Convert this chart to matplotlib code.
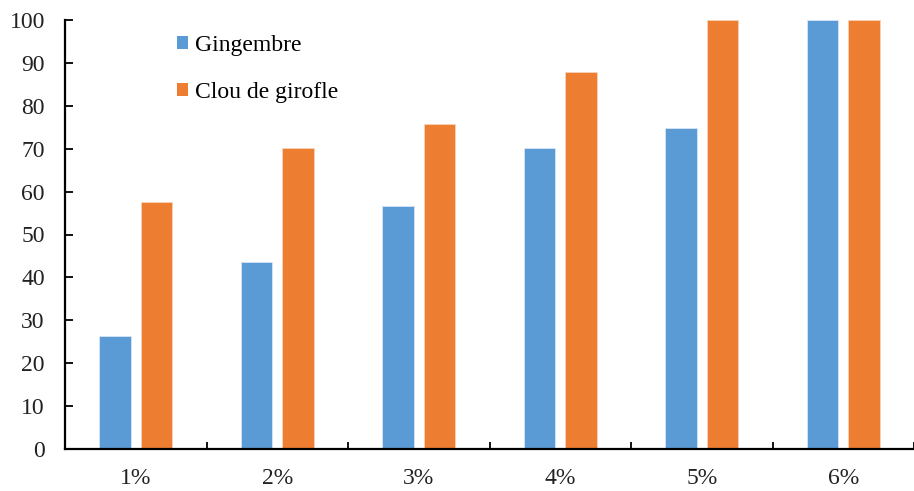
import numpy as np
import matplotlib.pyplot as plt
from matplotlib.patches import Patch

# Concentrations et pourcentages mesurés
concentrations = ["1%", "2%", "3%", "4%", "5%", "6%"]
gingembre = [26.3, 43.5, 56.6, 70.2, 74.8, 100]
clou_girofle = [57.5, 70.2, 75.8, 87.9, 100, 100]

bleu = "#5B9BD5"
orange = "#ED7D31"

plt.rcParams['font.family'] = ['Liberation Serif', 'DejaVu Serif']
fs = 17

fig = plt.figure(figsize=(9.14, 4.91), dpi=100)
ax = fig.add_axes([65/914, 1 - 449/491, 849/914, 429/491])

x = np.arange(len(concentrations))
w = 0.224
ax.bar(x - 0.147, gingembre, w, color=bleu, edgecolor="#d6e6f5", linewidth=0.6)
ax.bar(x + 0.147, clou_girofle, w, color=orange, edgecolor="#f8d3bc", linewidth=0.6)

ax.set_xlim(-0.5, 5.437)
ax.set_ylim(0, 100)
ax.set_yticks(np.arange(0, 101, 10))

ax.set_xticks(x)
ax.set_xticklabels(concentrations)
ax.set_xticks(np.arange(0.5, 5.6, 1), minor=True)
ax.tick_params(axis='x', which='major', length=0, pad=14, labelsize=fs, labelcolor="#222222")
ax.tick_params(axis='x', which='minor', direction='in', length=5, width=1.3, color='black')
ax.tick_params(axis='y', direction='in', length=6, width=1.3, pad=14.5, labelsize=fs, labelcolor="#222222")

ax.spines[['right', 'top']].set_visible(False)
for s in ['left', 'bottom']:
    ax.spines[s].set_linewidth(1.6)
    ax.spines[s].set_color('black')

handles = [Patch(facecolor=bleu, label="Gingembre"),
           Patch(facecolor=orange, label="Clou de girofle")]
ax.legend(handles=handles, loc='upper left', bbox_to_anchor=(177/914, 1 - 35/491),
          bbox_transform=fig.transFigure, frameon=False, fontsize=fs,
          handlelength=0.47, handleheight=0.47, handletextpad=0.3,
          labelspacing=1.1, borderpad=0, borderaxespad=0)

fig.savefig("out.png", dpi=100)
